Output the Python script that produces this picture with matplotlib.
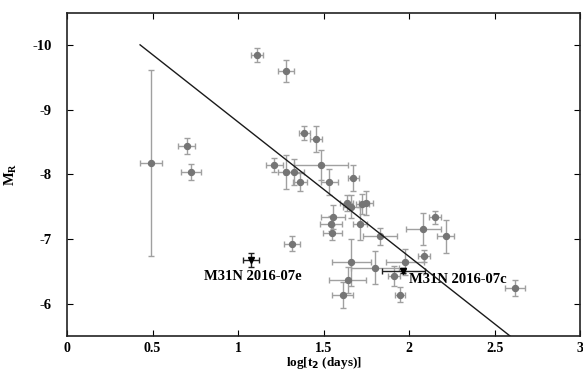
import numpy as np
import matplotlib
matplotlib.use("Agg")
import matplotlib.pyplot as plt

# novae sample: log t2, M_R and errors
log_t2 = [0.49, 0.70, 0.725, 1.11, 1.28, 1.386, 1.458, 1.213, 1.281, 1.326,
          1.363, 1.485, 1.534, 1.675, 1.635, 1.661, 1.727, 1.749, 1.557, 1.544,
          1.552, 1.715, 1.83, 2.084, 2.154, 2.214, 2.086, 1.661, 1.80, 1.977,
          1.91, 1.641, 1.612, 1.947, 2.62, 1.318]
m_r = [-8.18, -8.44, -8.04, -9.845, -9.6, -8.64, -8.54, -8.14, -8.04, -8.04,
       -7.88, -8.14, -7.88, -7.94, -7.56, -7.5, -7.54, -7.56, -7.34, -7.24,
       -7.1, -7.24, -7.04, -7.16, -7.34, -7.04, -6.74, -6.64, -6.56, -6.64,
       -6.43, -6.37, -6.14, -6.14, -6.24, -6.93]
x_err = [0.065, 0.05, 0.06, 0.034, 0.046, 0.032, 0.035, 0.05, 0.05, 0.06,
         0.04, 0.16, 0.05, 0.035, 0.04, 0.05, 0.04, 0.04, 0.07, 0.066,
         0.054, 0.04, 0.1, 0.1, 0.035, 0.05, 0.035, 0.114, 0.14, 0.11,
         0.035, 0.11, 0.06, 0.03, 0.06, 0.047]
y_err = [1.44, 0.12, 0.12, 0.11, 0.17, 0.11, 0.2, 0.11, 0.26, 0.2,
         0.14, 0.23, 0.2, 0.2, 0.12, 0.18, 0.15, 0.19, 0.18, 0.12,
         0.12, 0.26, 0.13, 0.25, 0.1, 0.25, 0.09, 0.36, 0.25, 0.2,
         0.15, 0.2, 0.2, 0.12, 0.12, 0.11]

# the two M31N novae
m31_names = ["M31N 2016-07e", "M31N 2016-07c"]
m31_x = [1.076, 1.967]
m31_y = [-6.68, -6.51]
m31_xerr = [0.046, 0.124]
m31_yerr = [0.11, 0.04]
label_x = [1.086, 2.285]
label_y = [-6.42, -6.37]

# MMRD fit line
fit_slope = 2.08
fit_intercept = -10.89
fit_range = [0.427, 2.6]

plt.rcParams['font.family'] = ['Liberation Serif', 'DejaVu Serif']
plt.rcParams['font.weight'] = 'bold'
plt.rcParams['axes.unicode_minus'] = False

fig = plt.figure(figsize=(5.83, 3.71), dpi=100)
ax = fig.add_axes([0.115, 0.094, 0.88, 0.872])

ax.errorbar(log_t2, m_r, xerr=x_err, yerr=y_err, fmt='o', color='#757575',
            ecolor='#a0a0a0', elinewidth=1.0, capsize=2.5, capthick=1.0,
            markersize=4.3, zorder=2)

ax.errorbar(m31_x, m31_y, xerr=m31_xerr, yerr=m31_yerr, fmt='v', color='black',
            ecolor='#222222', elinewidth=1.0, capsize=2.5, capthick=1.0,
            markersize=5, zorder=3)
for name, lx, ly in zip(m31_names, label_x, label_y):
    ax.text(lx, ly, name, fontsize=10.5, fontweight='bold', ha='center', va='center')

xf = np.linspace(fit_range[0], fit_range[1], 50)
ax.plot(xf, fit_slope * xf + fit_intercept, color='#1a1a1a', lw=1.0, zorder=4)

ax.set_xlim(0, 3)
ax.set_ylim(-5.5, -10.5)
ax.set_xticks([0, 0.5, 1, 1.5, 2, 2.5, 3])
ax.set_xticklabels(['0', '0.5', '1', '1.5', '2', '2.5', '3'])
ax.set_yticks([-10, -9, -8, -7, -6])
ax.tick_params(direction='in', top=True, right=True, labelsize=10.5, length=4)
ax.tick_params(axis='y', pad=11)
ax.tick_params(axis='x', pad=4, labelsize=10)
for s in ax.spines.values():
    s.set_linewidth(1.2)
    s.set_color('#222222')

ax.set_xlabel(r'log[t$_2$ (days)]', fontsize=9.5, fontweight='bold', labelpad=0)
ax.set_ylabel(r'M$_\mathregular{R}$', fontsize=10.5, fontweight='bold', labelpad=10)

fig.savefig('out.png', dpi=100)
